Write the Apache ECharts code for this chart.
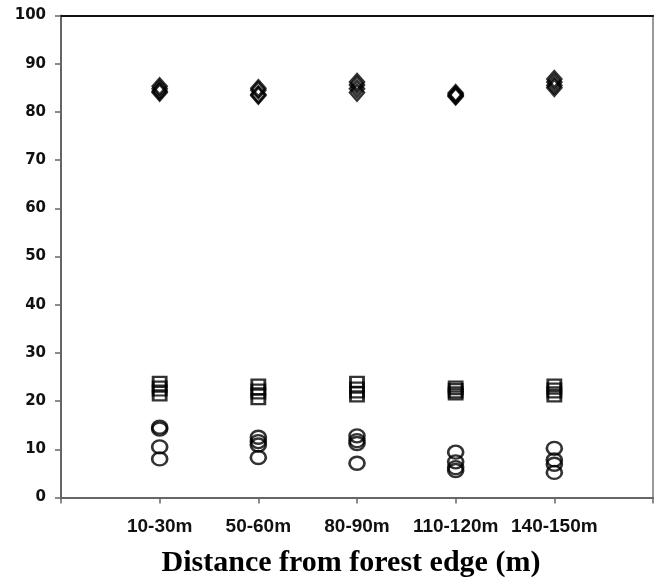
<!DOCTYPE html>
<html>
<head>
<meta charset="utf-8">
<script src="https://cdn.jsdelivr.net/npm/echarts@6/dist/echarts.min.js"></script>
<style>
html,body{margin:0;padding:0;background:#fff;}
#chart{width:659px;height:580px;}
</style>
</head>
<body>
<div id="chart"></div>
<script>
// Categories (x positions 1..5 on a 0..6 axis)
const categories = ['10-30m', '50-60m', '80-90m', '110-120m', '140-150m'];
const yTicks = [0, 10, 20, 30, 40, 50, 60, 70, 80, 90, 100];

// Replicate values per category
const diamondValues = [
  [85.3, 84.8, 84.3, 84.0],
  [84.9, 84.5, 83.6, 83.4],
  [86.2, 85.6, 84.8, 84.0],
  [83.9, 83.6, 83.4, 83.2],
  [86.8, 86.2, 85.5, 85.0]
];
const squareValues = [
  [24.0, 23.0, 22.2, 21.2],
  [23.4, 22.4, 21.6, 20.4],
  [24.0, 22.8, 21.8, 21.0],
  [23.0, 22.5, 21.8, 21.4],
  [23.4, 22.6, 21.8, 21.0]
];
const circleValues = [
  [14.6, 14.2, 10.5, 8.0],
  [12.5, 11.6, 10.9, 8.3],
  [12.8, 11.8, 11.2, 7.1],
  [9.4, 7.4, 6.2, 5.6],
  [10.2, 7.8, 6.9, 5.2]
];

function toPoints(groups) {
  const out = [];
  groups.forEach((vals, i) => vals.forEach(v => out.push([i + 1, v])));
  return out;
}

const markerStyle = { color: 'rgba(255,255,255,0)', borderColor: '#000', borderWidth: 2.5 };

const chart = echarts.init(document.getElementById('chart'), null, { renderer: 'canvas' });
chart.setOption({
  animation: false,
  backgroundColor: '#fff',
  grid: { left: 61, right: 6, top: 15.5, bottom: 82.5, containLabel: false },
  xAxis: [{
    type: 'value', min: 0, max: 6, interval: 1, position: 'bottom',
    axisLine: { show: true, onZero: false, lineStyle: { color: '#666', width: 2 } },
    axisTick: { show: true, inside: false, length: 6, lineStyle: { color: '#666', width: 1.5 } },
    splitLine: { show: false },
    axisLabel: {
      margin: 20, color: '#111', fontFamily: 'Liberation Sans', fontWeight: 'bold', fontSize: 19,
      showMinLabel: true, showMaxLabel: true,
      formatter: v => (v >= 1 && v <= categories.length) ? categories[v - 1] : ''
    }
  }, {
    type: 'value', min: 0, max: 6, interval: 1, position: 'top',
    axisLine: { show: true, onZero: false, lineStyle: { color: '#111', width: 2 } },
    axisTick: { show: false }, axisLabel: { show: false }, splitLine: { show: false }
  }],
  yAxis: [{
    type: 'value', min: 0, max: 100, interval: 10, position: 'left',
    axisLine: { show: true, onZero: false, lineStyle: { color: '#666', width: 2 } },
    axisTick: { show: true, inside: false, length: 6, lineStyle: { color: '#666', width: 1.5 } },
    splitLine: { show: false },
    axisLabel: {
      margin: 15, color: '#111', fontFamily: 'DejaVu Sans', fontWeight: 'bold', fontSize: 15,
      formatter: v => (yTicks.indexOf(v) >= 0 ? String(v) : '')
    }
  }, {
    type: 'value', min: 0, max: 100, interval: 10, position: 'right',
    axisLine: { show: true, onZero: false, lineStyle: { color: '#777', width: 1.5 } },
    axisTick: { show: false }, axisLabel: { show: false }, splitLine: { show: false }
  }],
  series: [{
    type: 'scatter', name: 'diamond', symbol: 'diamond', symbolSize: [14, 16],
    itemStyle: markerStyle, data: toPoints(diamondValues)
  }, {
    type: 'scatter', name: 'square', symbol: 'rect', symbolSize: [13, 10],
    itemStyle: markerStyle, data: toPoints(squareValues)
  }, {
    type: 'scatter', name: 'circle', symbol: 'circle', symbolSize: [15, 13],
    itemStyle: markerStyle, data: toPoints(circleValues)
  }],
  graphic: [{
    type: 'text', x: 351, y: 563,
    style: {
      text: 'Distance from forest edge (m)', fill: '#000',
      font: 'bold 30px "Liberation Serif"', align: 'center', verticalAlign: 'middle'
    }
  }]
});
</script>
</body>
</html>
